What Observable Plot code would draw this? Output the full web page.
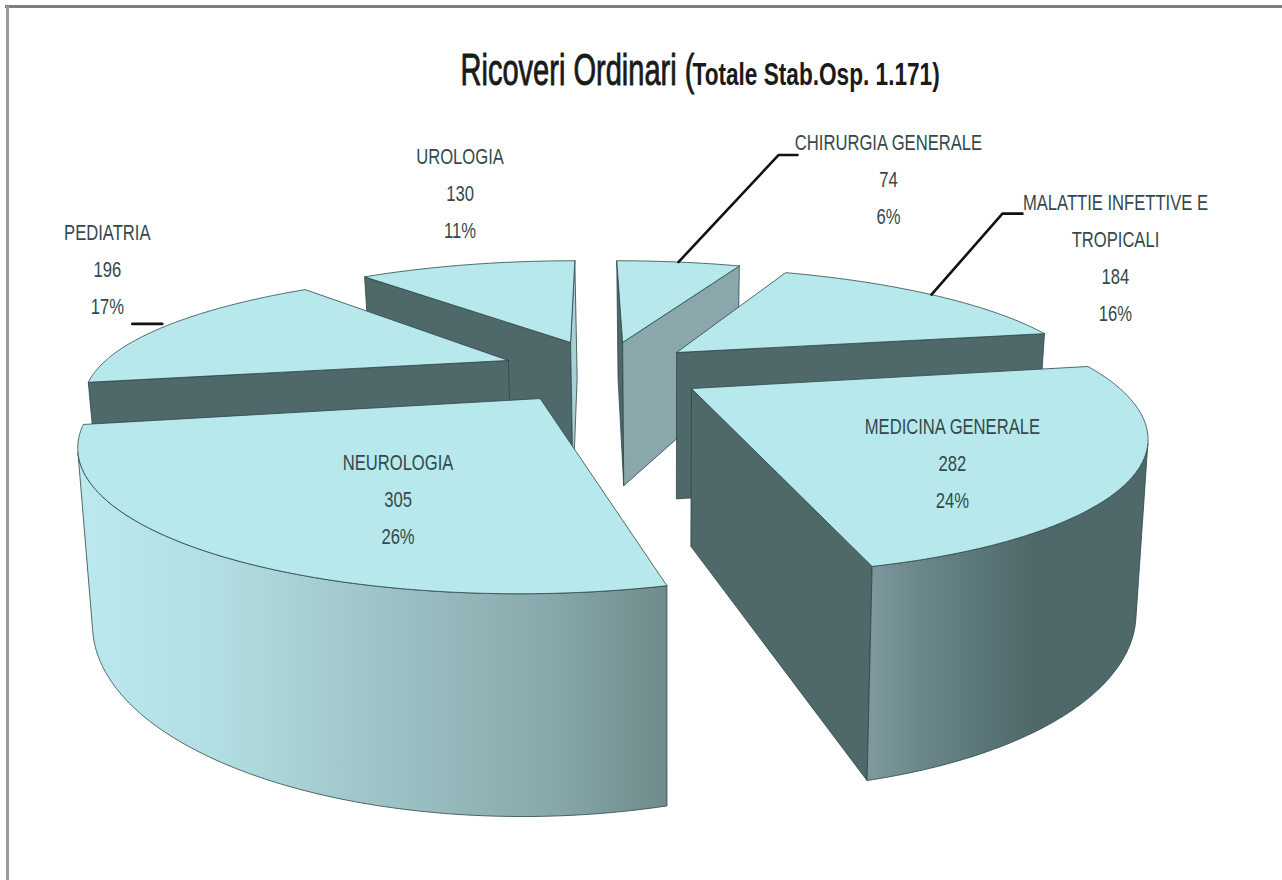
<!DOCTYPE html>
<html><head><meta charset="utf-8">
<style>html,body{margin:0;padding:0;background:#fff}svg{display:block}</style>
<script src="https://cdn.jsdelivr.net/npm/d3@7"></script>
<script src="https://cdn.jsdelivr.net/npm/@observablehq/plot@0.6"></script>
</head><body><div id="chart"></div>
<script>
// ---- data
const categories = ["CHIRURGIA GENERALE","MALATTIE INFETTIVE E\nTROPICALI","MEDICINA GENERALE","NEUROLOGIA","PEDIATRIA","UROLOGIA"];
const values = [74,184,282,305,196,130];
const percents = ["6%","16%","24%","26%","17%","11%"];
const titleMain = "Ricoveri Ordinari (";
const titleSub = "Totale Stab.Osp. 1.171)";

// ---- 3D pie layout (perspective camera and slice offsets in the pie plane)
const W = 1282, H = 880;
const cam = {x0:592, F:1527, D:3.63, K:1643, h:-79, depth:520, depthAdd:10, xv:667, conv:0.025, radiusX:0.987, farSquash:0.94};
const explodeX = [0.077,0.21,0.228,-0.118,-0.206,-0.056];
const explodeY = [-0.273,-0.182,0.112,0.186,-0.113,-0.273];
const paintOrder = [5,0,4,1,2,3];
const topFill = "#b7e8ec", dark = "#4f696b", edge = "#2c4547";
const endFaceFill = ["#8aa8ac",dark,dark,dark,dark,"#a9d0d4"];
const wallFill = ["#8aa8ac",dark,"url(#wallMed)","url(#wallNeu)",dark,dark];
// label offset from the rim point at the slice's mid angle; leader elbow offsets
const labelDx = [210,184,-183,189,-59,-7], labelDy = [-87,-41,-14,-57,-61,-76];
const leaders = [[[100,-107],[119,-107]],[[71,-81],[91,-81]],null,null,[[-34,-2],[-4,-2]],null];

const project = (X,Y,Z=0) => {
  const w = cam.D - Y;
  let x = cam.x0 + cam.F*X/w;
  x = cam.xv + (x-cam.xv)*(1-cam.conv*Z);
  return {x, y: cam.h + (cam.K + cam.depth*Z)/w + cam.depthAdd*Z};
};
const total = d3.sum(values);
const rad = d => d*Math.PI/180;
let cum = 0;
const slices = values.map((v,i)=>{const a0=cum; cum+=v/total*360; return {i,a0,a1:cum};});
const rimP = (s,a,Z=0)=>{
  const c = Math.cos(rad(a));
  return project(cam.radiusX*Math.sin(rad(a))+explodeX[s.i], -c*(c>0?cam.farSquash:1)+explodeY[s.i], Z);
};
const apexP = (s,Z=0)=>project(explodeX[s.i],explodeY[s.i],Z);
const area = p => d3.sum(p,(q,i)=>{const r=p[(i+1)%p.length];return q.x*r.y-r.x*q.y;});
const closed = p => [...p,p[0]];
const STEP = 0.5;
const polyMark = (p,fill,sw=0.8) => Plot.line(closed(p),{x:"x",y:"y",fill,stroke:edge,strokeWidth:sw,strokeLinejoin:"round",curve:"linear"});

const marks = [];
// gradients for the outer walls
marks.push(()=>{
  const defs = d3.create("svg:defs");
  const grad = (id,stops)=>{const g=defs.append("linearGradient").attr("id",id);
    stops.forEach(([o,c])=>g.append("stop").attr("offset",o).attr("stop-color",c));};
  grad("wallNeu",[[0,"#bbe9ee"],[.25,"#b0dde1"],[.5,"#9fc5c8"],[.8,"#88a9ab"],[1,"#6f8a8b"]]);
  grad("wallMed",[[0,"#7f9a9e"],[.2,"#6b8689"],[.45,"#587375"],[.6,"#4f696b"],[1,"#4f696b"]]);
  return defs.node();
});
// page frame
marks.push(Plot.ruleY([6],{x1:5,x2:W,stroke:"#7f7f7f",strokeWidth:3}));
marks.push(Plot.ruleX([7],{y1:6,y2:H,stroke:"#9a9a9a",strokeWidth:3}));

for (const i of paintOrder) {
  const s = slices[i];
  const angles = d3.range(s.a0,s.a1,STEP).concat([s.a1]);
  // radial faces, culled when turned away from the camera
  const startFace=[apexP(s),rimP(s,s.a0),rimP(s,s.a0,1),apexP(s,1)];
  const endFace=[rimP(s,s.a1),apexP(s),apexP(s,1),rimP(s,s.a1,1)];
  if (area(startFace)<0) marks.push(polyMark(startFace,dark));
  if (area(endFace)<0) marks.push(polyMark(endFace,endFaceFill[i]));
  // outer wall: only the samples that face the camera
  const vis=[];
  for(let k=0;k<angles.length-1;k++){
    const q=[rimP(s,angles[k]),rimP(s,angles[k+1]),rimP(s,angles[k+1],1),rimP(s,angles[k],1)];
    if(area(q)<0){ if(!vis.length) vis.push(angles[k]); vis.push(angles[k+1]); }
  }
  if(vis.length) marks.push(polyMark([...vis.map(a=>rimP(s,a)),...vis.slice().reverse().map(a=>rimP(s,a,1))],wallFill[i]));
  // top face
  marks.push(polyMark([apexP(s),...angles.map(a=>rimP(s,a))],topFill));
}
// leader lines
slices.forEach(s=>{
  const L=leaders[s.i]; if(!L) return;
  const r=rimP(s,(s.a0+s.a1)/2);
  const pts = L.map(([dx,dy])=>({x:r.x+dx,y:r.y+dy}));
  marks.push(Plot.line(s.i===4?pts:[r,...pts],{x:"x",y:"y",stroke:"#111",strokeWidth:2.6}));
});
// data labels
const font = "'Liberation Sans',sans-serif";
const labels = slices.map(s=>{const r=rimP(s,(s.a0+s.a1)/2);
  return {x:r.x+labelDx[s.i],y:r.y+labelDy[s.i],t:`${categories[s.i]}\n${values[s.i]}\n${percents[s.i]}`};});
marks.push(Plot.text(labels,{x:"x",y:"y",text:"t",fontFamily:font,fontSize:22,lineHeight:1.68,lineAnchor:"middle",textAnchor:"middle",fill:"#33494b",className:"cond-label"}));
// title
marks.push(Plot.text([titleMain],{x:()=>460,y:()=>70,text:d=>d,fontFamily:font,fontSize:44,textAnchor:"start",lineAnchor:"middle",fill:"#1a1a1a",stroke:"#1a1a1a",strokeWidth:0.9,className:"cond-main"}));
marks.push(Plot.text([titleSub],{x:()=>692,y:()=>75,text:d=>d,fontFamily:font,fontSize:31,fontWeight:"bold",textAnchor:"start",lineAnchor:"middle",fill:"#1a1a1a",className:"cond-sub"}));

const chart = Plot.plot({width:W,height:H,margin:0,
  x:{domain:[0,W],range:[0,W],axis:null},y:{domain:[0,H],range:[0,H],axis:null},
  style:{background:"#fff"},marks});
// the reference uses a condensed face: narrow each text horizontally
const narrow = (cls,k)=>chart.querySelectorAll(`.${cls} text`).forEach(t=>{
  t.setAttribute("transform",`${t.getAttribute("transform")||""} scale(${k},1)`);
});
narrow("cond-label",0.755); narrow("cond-main",0.66); narrow("cond-sub",0.73);
document.getElementById("chart").append(chart);
</script></body></html>
